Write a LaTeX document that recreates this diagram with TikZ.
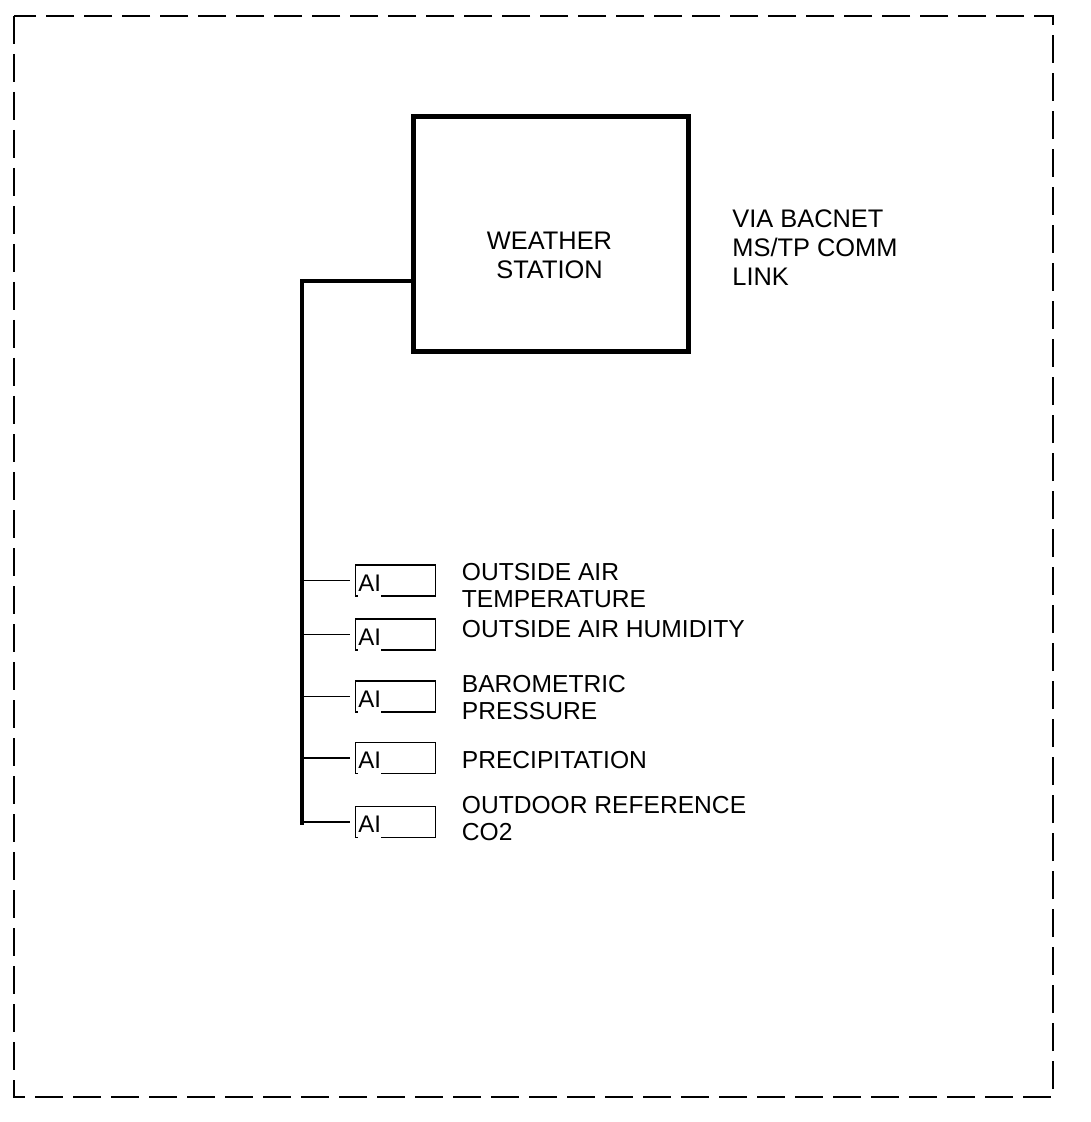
\documentclass[tikz,border=0pt]{standalone}
\usepackage{fontspec}
\setmainfont{Liberation Sans}
\usetikzlibrary{positioning}

\begin{document}
\begin{tikzpicture}[x=0.5pt, y=-0.5pt,
    frame/.style={line width=1pt, dash pattern=on 14pt off 5pt},
    unitbox/.style={draw, line width=2.5pt, minimum width=137.75pt, minimum height=117.5pt, inner sep=0pt},
    bus/.style={line width=2pt},
    branch/.style={line width=0.6pt},
    aibox/.style={draw, line width=0.6pt, minimum width=39.75pt, minimum height=15.5pt, inner sep=0pt, outer sep=2.8pt},
    aitext/.style={fill=white, inner sep=0pt, text depth=3pt, font=\fontsize{12}{14}\selectfont, anchor=base west},
    toptext/.style={inner sep=0pt, align=left, font=\fontsize{12.7}{14.5}\selectfont},
    pointtext/.style={inner sep=0pt, align=left, anchor=north west, font=\fontsize{12.3}{13.6}\selectfont}]

    \useasboundingbox (0,0) rectangle (1090,1122);

    % panel outline
    \draw[frame] (14,16) rectangle (1053,1097);

    % weather station
    \node[unitbox] (station) at (551,234.5) {};
    \node[toptext, align=center] (stationtext) at (549.5,255.3) {WEATHER\\STATION};
    \node[toptext, anchor=north west] (commtext) at (732,209.5) {VIA BACNET\\MS/TP COMM\\LINK};

    % points
    \node[aibox] (ai1) at (395.5,580.5) {};
    \node[aibox] (ai2) at (395.5,634.5) {};
    \node[aibox] (ai3) at (395.5,696.5) {};
    \node[aibox] (ai4) at (395.5,758) {};
    \node[aibox] (ai5) at (395.5,822) {};

    \foreach \i in {1,...,5}
        \node[aitext] (ailbl\i) at ([xshift=3.95pt, yshift=5.3pt]ai\i.south west) {AI};

    \node[pointtext] (lbl1) at (461.5,562.7) {OUTSIDE AIR\\TEMPERATURE};
    \node[pointtext] (lbl2) at (461.5,620)   {OUTSIDE AIR HUMIDITY};
    \node[pointtext] (lbl3) at (461.5,675)   {BAROMETRIC\\PRESSURE};
    \node[pointtext] (lbl4) at (461.5,750.5) {PRECIPITATION};
    \node[pointtext] (lbl5) at (461.5,795.5) {OUTDOOR REFERENCE\\CO2};

    % comm link
    \coordinate (tap) at ([yshift=-23.25pt]station.west);
    \coordinate (busend) at (302,825);
    \draw[bus] (tap) -| (busend);

    \foreach \i in {1,...,5}
        \draw[branch] (ai\i.west -| busend) -- (ai\i.west);
\end{tikzpicture}
\end{document}
